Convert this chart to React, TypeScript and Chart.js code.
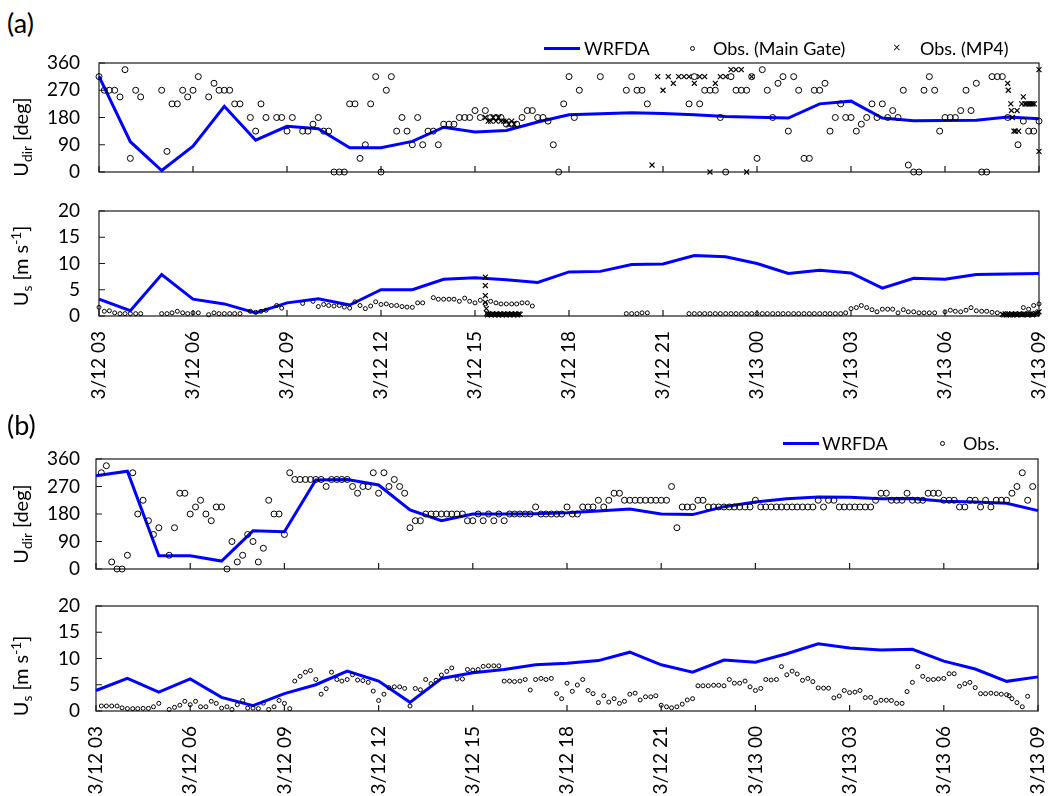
import React, { useEffect, useRef } from "react";
import { Chart, registerables } from "chart.js";
Chart.register(...registerables);

// ---------- axis definitions ----------
const timeTickHours = [0, 3, 6, 9, 12, 15, 18, 21, 24, 27, 30];
const timeTickLabels = ["3/12 03", "3/12 06", "3/12 09", "3/12 12", "3/12 15", "3/12 18", "3/12 21", "3/13 00", "3/13 03", "3/13 06", "3/13 09"];
const dirTicks = [0, 90, 180, 270, 360];
const speedTicks = [0, 5, 10, 15, 20];

// hours since 3/12 03
const modelHours = [0, 1, 2, 3, 4, 5, 6, 7, 8, 9, 10, 11, 12, 13, 14, 15, 16, 17, 18, 19, 20, 21, 22, 23, 24, 25, 26, 27, 28, 29, 30];

// ---------- panel (a) ----------
const wrfDirA = [316, 100, 5, 85, 217, 105, 151, 143, 80, 80, 101, 148, 132, 137, 165, 189, 192, 196, 193, 189, 183, 181, 178, 225, 234, 178, 169, 170, 171, 182, 176];
const wrfSpdA = [3.2, 1.0, 7.9, 3.2, 2.3, 0.6, 2.5, 3.3, 2.1, 5.0, 5.0, 7.0, 7.3, 6.9, 6.4, 8.4, 8.5, 9.8, 9.9, 11.5, 11.3, 10.0, 8.1, 8.7, 8.2, 5.3, 7.2, 7.0, 7.9, 8.0, 8.1];

const obsGateDirA: [number, number][] = [
  [0, 315], [0.17, 270], [0.33, 270], [0.5, 270], [0.67, 248], [0.83, 338], [1.0, 45], [1.17, 270], [1.33, 248],
  [2.0, 270], [2.17, 68], [2.33, 225], [2.5, 225], [2.67, 270], [2.83, 248], [3.0, 270], [3.17, 315], [3.5, 248],
  [3.67, 293], [3.83, 270], [4.0, 270], [4.17, 270], [4.33, 225], [4.5, 225], [4.83, 180], [5.0, 135], [5.17, 225],
  [5.33, 180], [5.67, 180], [5.83, 180], [6.0, 135], [6.17, 180], [6.5, 135], [6.67, 135], [6.83, 158], [7.0, 180],
  [7.17, 135], [7.33, 135], [7.5, 0], [7.67, 0], [7.83, 0], [8.0, 225], [8.17, 225], [8.33, 45], [8.5, 90], [8.67, 225],
  [8.83, 315], [9.0, 0], [9.17, 270], [9.33, 315], [9.5, 135], [9.67, 180], [9.83, 135], [10.0, 90], [10.17, 180],
  [10.33, 90], [10.5, 135], [10.67, 135], [10.83, 90], [11.0, 158], [11.17, 158], [11.33, 158], [11.5, 180], [11.67, 180],
  [11.83, 180], [12.0, 203], [12.17, 180], [12.33, 203], [12.5, 180], [12.67, 180], [12.83, 180], [13.0, 158], [13.17, 158],
  [13.33, 158], [13.5, 180], [13.67, 203], [13.83, 203], [14.0, 180], [14.17, 180], [14.33, 168], [14.5, 90], [14.67, 0],
  [14.83, 225], [15.0, 315], [15.17, 180], [15.33, 270], [16.0, 315], [16.83, 270], [17.0, 315], [17.17, 270], [17.33, 270],
  [17.5, 225], [18.83, 225], [19.0, 315], [19.17, 225], [19.33, 270], [19.5, 270], [19.67, 270], [19.83, 180], [20.0, 0],
  [20.17, 315], [20.33, 270], [20.5, 270], [20.67, 270], [20.83, 315], [21.0, 45], [21.17, 338], [21.33, 270], [21.5, 180],
  [21.67, 293], [21.83, 315], [22.0, 135], [22.17, 315], [22.33, 270], [22.5, 45], [22.67, 45], [22.83, 270], [23.0, 270],
  [23.17, 293], [23.33, 135], [23.5, 180], [23.67, 225], [23.83, 180], [24.0, 180], [24.17, 135], [24.33, 158], [24.5, 180],
  [24.67, 225], [24.83, 180], [25.0, 225], [25.17, 180], [25.33, 203], [25.5, 180], [25.67, 270], [25.83, 23], [26.0, 0],
  [26.17, 0], [26.33, 270], [26.5, 315], [26.67, 270], [26.83, 135], [27.0, 180], [27.17, 180], [27.33, 180], [27.5, 203],
  [27.67, 270], [27.83, 203], [28.0, 293], [28.17, 0], [28.33, 0], [28.5, 315], [28.67, 315], [28.83, 315], [29.0, 180],
  [29.33, 90], [29.5, 168], [29.67, 135], [29.83, 135], [30.0, 168],
];

const obsMp4DirA: [number, number][] = [
  [12.33, 180], [12.42, 168], [12.5, 168], [12.58, 180], [12.67, 168], [12.75, 180], [12.83, 168], [12.92, 168], [13.0, 168],
  [13.08, 158], [13.17, 168], [13.25, 158],
  [17.65, 23], [17.83, 315], [18.0, 270], [18.17, 315], [18.33, 293], [18.5, 315], [18.67, 315], [18.83, 315], [19.0, 293],
  [19.17, 315], [19.33, 315], [19.5, 0], [19.67, 293], [19.83, 315], [20.0, 315], [20.17, 338], [20.33, 338], [20.5, 338],
  [20.67, 0], [20.83, 315],
  [29.0, 293], [29.02, 270], [29.1, 225], [29.12, 203], [29.15, 180], [29.2, 135], [29.25, 135], [29.3, 203], [29.35, 135],
  [29.45, 225], [29.5, 248], [29.55, 225], [29.6, 225], [29.65, 225], [29.7, 225], [29.75, 225], [29.8, 225], [29.85, 225],
  [30.0, 338], [30.0, 68],
];

const obsGateSpdA: [number, number][] = [
  [0, 1.65], [0.17, 0.9], [0.33, 1.0], [0.5, 0.6], [0.67, 0.45], [0.83, 0.45], [1.0, 0.45], [1.17, 0.45], [1.33, 0.45],
  [2.0, 0.45], [2.17, 0.45], [2.33, 0.6], [2.5, 0.9], [2.67, 0.6], [2.83, 0.45], [3.0, 0.6], [3.17, 0.6],
  [3.5, 0.25], [3.67, 0.6], [3.83, 0.45], [4.0, 0.45], [4.17, 0.45], [4.33, 0.45], [4.5, 0.45],
  [4.83, 0.9], [5.0, 0.7], [5.17, 0.9], [5.33, 1.1], [5.67, 2.0], [5.83, 1.5],
  [6.5, 2.4], [6.83, 2.8], [7.0, 1.8], [7.17, 2.2], [7.33, 2.0], [7.5, 1.9], [7.67, 2.0], [7.83, 1.7], [8.0, 1.5],
  [8.17, 2.7], [8.33, 2.0], [8.5, 1.4], [8.67, 1.9], [8.83, 2.7], [9.0, 2.2], [9.17, 2.3], [9.33, 2.0], [9.5, 2.0],
  [9.67, 1.8], [9.83, 1.7], [10.0, 1.65], [10.17, 2.5], [10.33, 2.5],
  [10.67, 3.5], [10.83, 3.2], [11.0, 3.2], [11.17, 3.2], [11.33, 3.2], [11.5, 2.8], [11.67, 3.4], [11.83, 2.8], [12.0, 2.5],
  [12.17, 3.0], [12.33, 2.3], [12.5, 2.8], [12.67, 2.5], [12.83, 2.3], [13.0, 2.3], [13.17, 2.3], [13.33, 2.3], [13.5, 2.5],
  [13.67, 2.5], [13.83, 1.9],
  [16.83, 0.45], [17.0, 0.45], [17.17, 0.45], [17.33, 0.6], [17.5, 0.6],
  [18.83, 0.45], [19.0, 0.45], [19.17, 0.45], [19.33, 0.45], [19.5, 0.45], [19.67, 0.45], [19.83, 0.45], [20.0, 0.45],
  [20.17, 0.45], [20.33, 0.45], [20.5, 0.45], [20.67, 0.45], [20.83, 0.45], [21.0, 0.45], [21.17, 0.45], [21.33, 0.45],
  [21.5, 0.45], [21.67, 0.45], [21.83, 0.45], [22.0, 0.45], [22.17, 0.45], [22.33, 0.45], [22.5, 0.45], [22.67, 0.45],
  [22.83, 0.45], [23.0, 0.45], [23.17, 0.45], [23.33, 0.45], [23.5, 0.45], [23.67, 0.45], [23.83, 0.6],
  [24.0, 1.4], [24.17, 1.6], [24.33, 2.0], [24.5, 1.6], [24.67, 1.2], [24.83, 0.8], [25.0, 1.3], [25.17, 1.3], [25.33, 1.3],
  [25.5, 0.6], [25.67, 1.2], [25.83, 0.8], [26.0, 0.8], [26.17, 0.6], [26.33, 0.6], [26.5, 0.6], [26.67, 0.6], [27.0, 0.8],
  [27.17, 1.1], [27.33, 0.9], [27.5, 0.8], [27.67, 1.1], [27.83, 1.6], [28.0, 1.0], [28.17, 0.9], [28.33, 0.9], [28.5, 0.7],
  [28.67, 0.6], [29.5, 1.6], [29.67, 1.3], [29.83, 2.0], [30.0, 2.3],
];

const obsMp4SpdA: [number, number][] = [
  [12.33, 7.4], [12.33, 5.8], [12.33, 3.9], [12.33, 2.6], [12.36, 1.4], [12.38, 0.5], [12.4, 0.2], [12.44, 0.4], [12.48, 0.3],
  [12.52, 0.2], [12.56, 0.4], [12.6, 0.3], [12.64, 0.2], [12.68, 0.4], [12.72, 0.3], [12.76, 0.2], [12.8, 0.4], [12.84, 0.3],
  [12.88, 0.2], [12.92, 0.4], [12.96, 0.3], [13.0, 0.2], [13.04, 0.4], [13.08, 0.3], [13.12, 0.2], [13.16, 0.4], [13.2, 0.3],
  [13.24, 0.2], [13.28, 0.4], [13.32, 0.3], [13.36, 0.2], [13.4, 0.4], [13.44, 0.3],
  [28.83, 0.3], [28.88, 0.2], [28.92, 0.4], [28.96, 0.2], [29.0, 0.4], [29.04, 0.3], [29.08, 0.2], [29.13, 0.4], [29.17, 0.2],
  [29.21, 0.3], [29.25, 0.4], [29.29, 0.2], [29.33, 0.3], [29.38, 0.4], [29.42, 0.3], [29.46, 0.2], [29.5, 0.4], [29.54, 0.3],
  [29.58, 0.3], [29.63, 0.2], [29.67, 0.4], [29.71, 0.3], [29.75, 0.4], [29.79, 0.2], [29.83, 0.3], [29.88, 0.5], [29.92, 0.4],
  [29.96, 0.6], [30.0, 0.8],
];

// ---------- panel (b) ----------
const wrfDirB = [305, 320, 43, 43, 26, 125, 122, 291, 293, 275, 193, 158, 180, 180, 181, 184, 190, 196, 180, 178, 204, 219, 230, 236, 235, 230, 231, 222, 219, 215, 191];
const wrfSpdB = [3.9, 6.2, 3.6, 6.1, 2.6, 1.0, 3.3, 5.0, 7.6, 5.7, 1.65, 6.2, 7.3, 7.9, 8.8, 9.1, 9.6, 11.2, 8.8, 7.4, 9.7, 9.3, 10.9, 12.8, 12.0, 11.6, 11.75, 9.5, 8.0, 5.65, 6.5];

const obsDirB: [number, number][] = [
  [0.17, 315], [0.33, 338], [0.5, 23], [0.67, 0], [0.83, 0], [1.0, 45], [1.17, 315], [1.33, 180], [1.5, 225], [1.67, 158],
  [1.83, 113], [2.0, 135], [2.33, 45], [2.5, 135], [2.67, 248], [2.83, 248], [3.0, 180], [3.17, 203], [3.33, 225], [3.5, 180],
  [3.67, 158], [3.83, 203], [4.0, 203], [4.17, 0], [4.33, 90], [4.5, 23], [4.67, 45], [4.83, 113], [5.0, 90], [5.17, 23],
  [5.33, 68], [5.5, 225], [5.67, 180], [5.83, 180], [6.0, 113], [6.17, 315], [6.33, 293], [6.5, 293], [6.67, 293], [6.83, 293],
  [7.0, 293], [7.17, 293], [7.33, 270], [7.5, 293], [7.67, 293], [7.83, 293], [8.0, 293], [8.17, 270], [8.33, 248], [8.5, 270],
  [8.67, 270], [8.83, 315], [9.0, 248], [9.17, 315], [9.33, 270], [9.5, 293], [9.67, 270], [9.83, 248], [10.0, 135], [10.17, 158],
  [10.33, 158], [10.5, 180], [10.67, 180], [10.83, 180], [11.0, 180], [11.17, 180], [11.33, 180], [11.5, 180], [11.67, 180],
  [11.83, 158], [12.0, 158], [12.17, 180], [12.33, 158], [12.5, 180], [12.67, 158], [12.83, 180], [13.0, 158], [13.17, 180],
  [13.33, 180], [13.5, 180], [13.67, 180], [13.83, 180], [14.0, 203], [14.17, 180], [14.33, 180], [14.5, 180], [14.67, 180],
  [14.83, 180], [15.0, 203], [15.17, 180], [15.33, 180], [15.5, 203], [15.67, 203], [15.83, 203], [16.0, 225], [16.17, 203],
  [16.33, 225], [16.5, 248], [16.67, 248], [16.83, 225], [17.0, 225], [17.17, 225], [17.33, 225], [17.5, 225], [17.67, 225],
  [17.83, 225], [18.0, 225], [18.17, 225], [18.33, 270], [18.5, 135], [18.67, 203], [18.83, 203], [19.0, 203], [19.17, 225],
  [19.33, 225], [19.5, 203], [19.67, 203], [19.83, 203], [20.0, 203], [20.17, 203], [20.33, 203], [20.5, 203], [20.67, 203],
  [20.83, 203], [21.0, 225], [21.17, 203], [21.33, 203], [21.5, 203], [21.67, 203], [21.83, 203], [22.0, 203], [22.17, 203],
  [22.33, 203], [22.5, 203], [22.67, 203], [22.83, 203], [23.0, 225], [23.17, 203], [23.33, 225], [23.5, 225], [23.67, 203],
  [23.83, 203], [24.0, 203], [24.17, 203], [24.33, 203], [24.5, 203], [24.67, 203], [24.83, 225], [25.0, 248], [25.17, 248],
  [25.33, 225], [25.5, 225], [25.67, 225], [25.83, 248], [26.0, 225], [26.17, 225], [26.33, 225], [26.5, 248], [26.67, 248],
  [26.83, 248], [27.0, 225], [27.17, 225], [27.33, 225], [27.5, 203], [27.67, 203], [27.83, 225], [28.0, 225], [28.17, 203],
  [28.33, 225], [28.5, 203], [28.67, 225], [28.83, 225], [29.0, 225], [29.17, 248], [29.33, 270], [29.5, 315], [29.67, 225],
  [29.83, 270],
];

const obsSpdB: [number, number][] = [
  [0.17, 0.95], [0.33, 0.95], [0.5, 0.95], [0.67, 0.95], [0.83, 0.6], [1.0, 0.45], [1.17, 0.45], [1.33, 0.45], [1.5, 0.5],
  [1.67, 0.5], [1.83, 0.8], [2.0, 1.45], [2.33, 0.3], [2.5, 0.7], [2.67, 1.1], [2.83, 1.85], [3.0, 1.2], [3.17, 1.85],
  [3.33, 0.8], [3.5, 0.8], [3.67, 1.85], [3.83, 1.45], [4.0, 0.55], [4.17, 0.8], [4.33, 0.3], [4.5, 1.2], [4.67, 2.0],
  [4.83, 0.55], [5.0, 0.55], [5.17, 0.45], [5.33, 1.5], [5.5, 0.3], [5.67, 0.8], [5.83, 2.0], [6.0, 1.45], [6.17, 0.45],
  [6.33, 5.7], [6.5, 6.6], [6.67, 7.4], [6.83, 7.7], [7.0, 6.0], [7.17, 3.2], [7.33, 4.25], [7.5, 7.4], [7.67, 6.0],
  [7.83, 5.7], [8.0, 6.0], [8.17, 6.9], [8.33, 5.9], [8.5, 5.8], [8.67, 5.45], [8.83, 3.8], [9.0, 2.0], [9.17, 3.2],
  [9.33, 4.45], [9.5, 4.6], [9.67, 4.6], [9.83, 4.3], [10.0, 0.95], [10.17, 4.3], [10.33, 4.05], [10.5, 6.0], [10.67, 5.2],
  [10.83, 5.85], [11.0, 6.85], [11.17, 7.55], [11.33, 8.2], [11.5, 6.1], [11.67, 6.1], [11.83, 7.9], [12.0, 7.8], [12.17, 7.9],
  [12.33, 8.5], [12.5, 8.6], [12.67, 8.6], [12.83, 8.6], [13.0, 5.7], [13.17, 5.7], [13.33, 5.6], [13.5, 5.7], [13.67, 6.0],
  [13.83, 4.0], [14.0, 6.0], [14.17, 6.2], [14.33, 6.0], [14.5, 6.2], [14.67, 3.3], [14.83, 2.35], [15.0, 5.3], [15.17, 3.75],
  [15.33, 4.95], [15.5, 6.0], [15.67, 3.9], [15.83, 3.3], [16.0, 1.6], [16.17, 2.9], [16.33, 1.7], [16.5, 2.35], [16.67, 1.45],
  [16.83, 1.85], [17.0, 3.2], [17.17, 3.4], [17.33, 2.1], [17.5, 2.7], [17.67, 2.7], [17.83, 2.9], [18.0, 1.1], [18.17, 0.8],
  [18.33, 0.6], [18.5, 0.8], [18.67, 1.3], [18.83, 2.1], [19.0, 2.35], [19.17, 4.8], [19.33, 4.8], [19.5, 4.8], [19.67, 4.9],
  [19.83, 4.9], [20.0, 4.8], [20.17, 6.0], [20.33, 5.3], [20.5, 5.3], [20.67, 5.7], [20.83, 4.6], [21.0, 3.9], [21.17, 4.3],
  [21.33, 6.0], [21.5, 5.9], [21.67, 6.0], [21.83, 8.45], [22.0, 6.9], [22.17, 7.6], [22.33, 7.05], [22.5, 5.85], [22.67, 6.2],
  [22.83, 5.6], [23.0, 4.4], [23.17, 4.35], [23.33, 4.35], [23.5, 2.5], [23.67, 2.85], [23.83, 3.9], [24.0, 3.5], [24.17, 3.6],
  [24.33, 3.9], [24.5, 2.55], [24.67, 2.6], [24.83, 1.6], [25.0, 2.05], [25.17, 2.05], [25.33, 2.0], [25.5, 1.45], [25.67, 1.45],
  [25.83, 3.7], [26.0, 5.45], [26.17, 8.45], [26.33, 6.6], [26.5, 6.0], [26.67, 6.0], [26.83, 6.1], [27.0, 6.2], [27.17, 7.1],
  [27.33, 7.1], [27.5, 4.7], [27.67, 5.2], [27.83, 5.45], [28.0, 4.45], [28.17, 3.3], [28.33, 3.3], [28.5, 3.4], [28.67, 3.3],
  [28.83, 3.2], [29.0, 3.1], [29.08, 2.9], [29.17, 2.35], [29.33, 1.6], [29.5, 0.8], [29.67, 2.8],
];

// ---------- helpers ----------
const FONT = "Lato, 'Open Sans', sans-serif";
const W = 1054;

const toXY = (pts: [number, number][]) => pts.map(([x, y]) => ({ x, y }));
const lineXY = (vals: number[]) => modelHours.map((h, i) => ({ x: h, y: vals[i] }));

const framePlugin = {
  id: "frame",
  beforeDatasetsDraw(chart: any) {
    const { ctx, chartArea: a, scales } = chart;
    ctx.save();
    ctx.strokeStyle = "#1a1a1a";
    ctx.lineWidth = 1.2;
    ctx.strokeRect(a.left, a.top, a.right - a.left, a.bottom - a.top);
    ctx.beginPath();
    scales.x.ticks.forEach((t: any) => {
      const px = scales.x.getPixelForValue(t.value);
      ctx.moveTo(px, a.bottom);
      ctx.lineTo(px, a.bottom - 6);
    });
    scales.y.ticks.forEach((t: any) => {
      const py = scales.y.getPixelForValue(t.value);
      ctx.moveTo(a.left, py);
      ctx.lineTo(a.left + 6, py);
    });
    ctx.stroke();
    ctx.restore();
  },
};

type PanelOpts = {
  canvasTop: number;
  canvasHeight: number;
  plotLeft: number;
  plotRight: number;
  plotTop: number;
  plotBottom: number;
  yTicks: number[];
  showXLabels: boolean;
  datasets: any[];
};

function buildConfig(o: PanelOpts): any {
  const below = o.canvasTop + o.canvasHeight - o.plotBottom;
  const xAxisH = o.showXLabels ? below : 0;
  const padBottom = o.showXLabels ? 0 : below;
  const yTicks = o.yTicks;
  return {
    type: "line",
    data: { datasets: o.datasets },
    options: {
      responsive: false,
      maintainAspectRatio: false,
      animation: false,
      layout: { padding: { left: 0, right: W - o.plotRight, top: o.plotTop - o.canvasTop, bottom: padBottom } },
      plugins: { legend: { display: false }, tooltip: { enabled: false } },
      scales: {
        x: {
          type: "linear",
          min: 0,
          max: 30,
          grid: { display: false, drawTicks: false },
          border: { display: false },
          afterBuildTicks: (s: any) => {
            s.ticks = timeTickHours.map((v) => ({ value: v }));
          },
          afterFit: (s: any) => {
            s.height = xAxisH;
            s.paddingLeft = 0;
            s.paddingRight = 0;
          },
          ticks: {
            display: o.showXLabels,
            autoSkip: false,
            minRotation: 90,
            maxRotation: 90,
            padding: 15,
            color: "#000",
            font: { family: FONT, size: 19 },
            callback: (_v: any, i: number) => timeTickLabels[i],
          },
        },
        y: {
          type: "linear",
          min: yTicks[0],
          max: yTicks[yTicks.length - 1],
          grid: { display: false, drawTicks: false },
          border: { display: false },
          afterBuildTicks: (s: any) => {
            s.ticks = yTicks.map((v) => ({ value: v }));
          },
          afterFit: (s: any) => {
            s.width = o.plotLeft;
            s.paddingTop = 0;
            s.paddingBottom = 0;
          },
          ticks: {
            autoSkip: false,
            padding: o.plotLeft - 80,
            color: "#000",
            font: { family: FONT, size: 19 },
          },
        },
      },
    },
    plugins: [framePlugin],
  };
}

const lineDs = (label: string, vals: number[]) => ({
  label,
  data: lineXY(vals),
  borderColor: "#0000ff",
  backgroundColor: "#0000ff",
  borderWidth: 3,
  pointRadius: 0,
  tension: 0,
  fill: false,
  clip: false,
  order: 2,
});
const circleDs = (label: string, pts: [number, number][], r: number) => ({
  label,
  data: toXY(pts),
  showLine: false,
  pointStyle: "circle",
  pointRadius: r,
  pointBorderWidth: 1,
  pointBorderColor: "#000",
  pointBackgroundColor: "rgba(0,0,0,0)",
  borderColor: "#000",
  backgroundColor: "rgba(0,0,0,0)",
  clip: false,
  order: 1,
});
const crossDs = (label: string, pts: [number, number][]) => ({
  label,
  data: toXY(pts),
  showLine: false,
  pointStyle: "crossRot",
  pointRadius: 3.5,
  pointBorderWidth: 1.2,
  pointBorderColor: "#000",
  borderColor: "#000",
  clip: false,
  order: 0,
});

function ChartCanvas({ opts }: { opts: PanelOpts }) {
  const ref = useRef<HTMLCanvasElement>(null);
  useEffect(() => {
    const chart = new Chart(ref.current as HTMLCanvasElement, buildConfig(opts));
    return () => chart.destroy();
  }, []);
  return (
    <canvas
      ref={ref}
      width={W}
      height={opts.canvasHeight}
      style={{ position: "absolute", left: 0, top: opts.canvasTop, width: W, height: opts.canvasHeight }}
    />
  );
}

const txt = (extra: React.CSSProperties): React.CSSProperties => ({
  position: "absolute",
  fontFamily: FONT,
  color: "#000",
  whiteSpace: "nowrap",
  ...extra,
});

function YTitle({ cx, cy, main, sub, tail, sup, tail2 }: { cx: number; cy: number; main: string; sub: string; tail: string; sup?: string; tail2?: string }) {
  return (
    <div
      style={txt({
        left: cx,
        top: cy,
        fontSize: 20,
        lineHeight: "24px",
        transform: "translate(-50%, -50%) rotate(-90deg)",
      })}
    >
      {main}
      <span style={{ fontSize: "0.68em", position: "relative", top: "0.3em" }}>{sub}</span>
      {tail}
      {sup ? <span style={{ fontSize: "0.68em", position: "relative", top: "-0.5em" }}>{sup}</span> : null}
      {tail2 || ""}
    </div>
  );
}

function LegendLine({ x, y, w }: { x: number; y: number; w: number }) {
  return <div style={{ position: "absolute", left: x, top: y - 1.5, width: w, height: 3, background: "#0000ff" }} />;
}
function LegendCircle({ x, y }: { x: number; y: number }) {
  return (
    <div
      style={{ position: "absolute", left: x - 2.5, top: y - 2.5, width: 5, height: 5, border: "1px solid #000", borderRadius: "50%", boxSizing: "border-box" }}
    />
  );
}
function LegendText({ x, y, s, size = 18 }: { x: number; y: number; s: string; size?: number }) {
  return <div style={txt({ left: x, top: y - 12, fontSize: size, lineHeight: "24px" })}>{s}</div>;
}

export default function App() {
  const panels: PanelOpts[] = [
    {
      canvasTop: 40, canvasHeight: 140, plotLeft: 99, plotRight: 1039, plotTop: 63, plotBottom: 172,
      yTicks: dirTicks, showXLabels: false,
      datasets: [lineDs("WRFDA", wrfDirA), circleDs("Obs. (Main Gate)", obsGateDirA, 3), crossDs("Obs. (MP4)", obsMp4DirA)],
    },
    {
      canvasTop: 190, canvasHeight: 220, plotLeft: 99, plotRight: 1039, plotTop: 211, plotBottom: 316,
      yTicks: speedTicks, showXLabels: true,
      datasets: [lineDs("WRFDA", wrfSpdA), circleDs("Obs. (Main Gate)", obsGateSpdA, 2), crossDs("Obs. (MP4)", obsMp4SpdA)],
    },
    {
      canvasTop: 448, canvasHeight: 130, plotLeft: 96, plotRight: 1038, plotTop: 459, plotBottom: 569,
      yTicks: dirTicks, showXLabels: false,
      datasets: [lineDs("WRFDA", wrfDirB), circleDs("Obs.", obsDirB, 3)],
    },
    {
      canvasTop: 590, canvasHeight: 206, plotLeft: 96, plotRight: 1038, plotTop: 606, plotBottom: 711,
      yTicks: speedTicks, showXLabels: true,
      datasets: [lineDs("WRFDA", wrfSpdB), circleDs("Obs.", obsSpdB, 2)],
    },
  ];

  return (
    <div style={{ position: "absolute", left: 0, top: 0, width: W, height: 796, background: "#fff", overflow: "hidden" }}>
      {panels.map((p, i) => (
        <ChartCanvas key={i} opts={p} />
      ))}

      <div style={txt({ left: 7, top: 6, fontSize: 27, lineHeight: "34px" })}>(a)</div>
      <div style={txt({ left: 7, top: 408, fontSize: 27, lineHeight: "34px" })}>(b)</div>

      <YTitle cx={21} cy={137} main="U" sub="dir" tail=" [deg]" />
      <YTitle cx={21} cy={266} main="U" sub="s" tail=" [m s" sup="-1" tail2="]" />
      <YTitle cx={21} cy={524} main="U" sub="dir" tail=" [deg]" />
      <YTitle cx={21} cy={676} main="U" sub="s" tail=" [m s" sup="-1" tail2="]" />

      {/* legend (a) */}
      <LegendLine x={544} y={48} w={36} />
      <LegendText x={584} y={48} s="WRFDA" />
      <LegendCircle x={692} y={48} />
      <LegendText x={713} y={48} s="Obs. (Main Gate)" />
      <div style={txt({ left: 893, top: 37, fontSize: 13, lineHeight: "20px" })}>×</div>
      <LegendText x={920} y={48} s="Obs. (MP4)" />

      {/* legend (b) */}
      <LegendLine x={783} y={443} w={36} />
      <LegendText x={822} y={443} s="WRFDA" />
      <LegendCircle x={942} y={443} />
      <LegendText x={963} y={443} s="Obs." />
    </div>
  );
}
